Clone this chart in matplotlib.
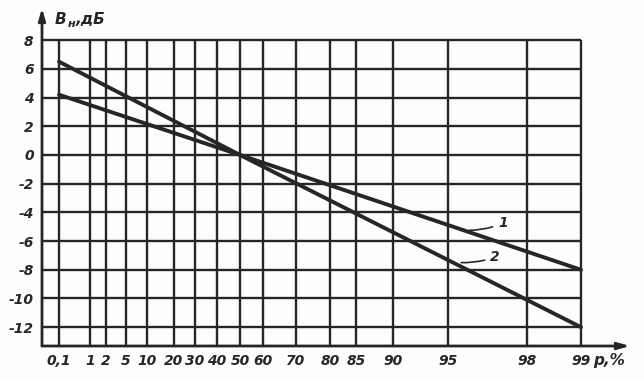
import numpy as np
import matplotlib
matplotlib.use('Agg')
import matplotlib.pyplot as plt

# ---- data ----
p_ticks = [0.1, 1, 2, 5, 10, 20, 30, 40, 50, 60, 70, 80, 85, 90, 95, 98, 99]
p_tick_labels = ['0,1', '1', '2', '5', '10', '20', '30', '40', '50', '60',
                 '70', '80', '85', '90', '95', '98', '99']
# spacing of the probability graph paper (relative units along the axis)
scale_pos = [0, 31, 47, 67, 88, 115, 136, 158, 181, 204, 237, 271, 297,
             334, 389, 468, 522]
db_ticks = [-12, -10, -8, -6, -4, -2, 0, 2, 4, 6, 8]
db_tick_labels = ['-12', '-10', '-8', '-6', '-4', '-2', '0', '2', '4', '6', '8']

p_data = [0.1, 50, 99]
curve1 = [4.2, 0.0, -8.0]
curve2 = [6.5, 0.0, -12.0]

P = np.array(p_ticks, float)
S = np.array(scale_pos, float)


def fwd(x):
    x = np.asarray(x, float)
    y = np.interp(x, P, S)
    y = np.where(x < P[0], S[0] + (x - P[0]) * (S[1] - S[0]) / (P[1] - P[0]), y)
    y = np.where(x > P[-1], S[-1] + (x - P[-1]) * (S[-1] - S[-2]) / (P[-1] - P[-2]), y)
    return y


def inv(s):
    s = np.asarray(s, float)
    x = np.interp(s, S, P)
    x = np.where(s < S[0], P[0] + (s - S[0]) * (P[1] - P[0]) / (S[1] - S[0]), x)
    x = np.where(s > S[-1], P[-1] + (s - S[-1]) * (P[-1] - P[-2]) / (S[-1] - S[-2]), x)
    return x


ink = '#262626'
bg = '#fdfdfb'
W, H = 644, 380
fig = plt.figure(figsize=(W / 100, H / 100), dpi=100, facecolor=bg)
# axes box in pixels: left 42, right 630, bottom 346, top 8
ax = fig.add_axes([42 / W, (H - 346) / H, (630 - 42) / W, (346 - 8) / H])
ax.set_facecolor(bg)
ax.set_xscale('function', functions=(fwd, inv))
xmin = float(inv(-17))
xmax = float(inv(571))
ymin, ymax = -13.31, 10.24
ax.set_xlim(xmin, xmax)
ax.set_ylim(ymin, ymax)

for s in ax.spines.values():
    s.set_visible(False)

# grid
ax.hlines(db_ticks, xmin, p_ticks[-1], colors=ink, lw=1.7, zorder=1)
ax.vlines(p_ticks, ymin, db_ticks[-1], colors=ink, lw=1.7, zorder=1)

# axes with arrows
ax.annotate('', xy=(1.0, 0.0), xytext=(0.0, 0.0), xycoords='axes fraction',
            arrowprops=dict(arrowstyle='-|>,head_length=0.7,head_width=0.2',
                            color=ink, lw=2.0, shrinkA=0, shrinkB=0))
ax.annotate('', xy=(0.0, 1.0), xytext=(0.0, 0.0), xycoords='axes fraction',
            arrowprops=dict(arrowstyle='-|>,head_length=0.7,head_width=0.2',
                            color=ink, lw=2.0, shrinkA=0, shrinkB=0))

# curves
ax.plot(p_data, curve1, color=ink, lw=2.8, zorder=3, solid_capstyle='round')
ax.plot(p_data, curve2, color=ink, lw=2.8, zorder=3, solid_capstyle='round')

fnt = dict(family='DejaVu Sans', weight='bold', style='italic', color=ink)
ax.set_xticks(p_ticks)
ax.set_xticklabels(p_tick_labels, fontsize=10, **fnt)
ax.set_yticks(db_ticks)
ax.set_yticklabels(db_tick_labels, fontsize=10, **fnt)
ax.tick_params(length=0, pad=6)
ax.xaxis.set_minor_locator(matplotlib.ticker.NullLocator())
ax.yaxis.set_minor_locator(matplotlib.ticker.NullLocator())

# curve labels with leader lines
ax.annotate('1', xy=(95.8, -5.25), xytext=(96.9, -4.75), fontsize=10, **fnt,
            ha='left', va='center',
            arrowprops=dict(arrowstyle='-', color=ink, lw=1.2, shrinkA=2, shrinkB=0,
                            connectionstyle='arc3,rad=-0.1'))
ax.annotate('2', xy=(95.5, -7.5), xytext=(96.6, -7.1), fontsize=10, **fnt,
            ha='left', va='center',
            arrowprops=dict(arrowstyle='-', color=ink, lw=1.2, shrinkA=2, shrinkB=0,
                            connectionstyle='arc3,rad=-0.1'))

# axis titles
fig.text(55 / W, 1 - 20 / H, 'B', fontsize=11, ha='left', va='center', **fnt)
fig.text(68 / W, 1 - 24 / H, 'н', fontsize=8, ha='left', va='center', **fnt)
fig.text(76 / W, 1 - 20 / H, ',дБ', fontsize=11, ha='left', va='center', **fnt)
fig.text(593 / W, 1 - 360 / H, 'p,%', fontsize=11, ha='left', va='center', **fnt)

fig.savefig('out.png', dpi=100, facecolor=bg)
